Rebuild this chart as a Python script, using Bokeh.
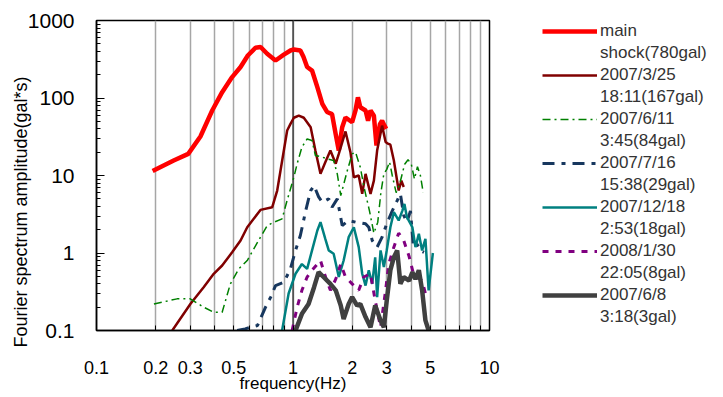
from bokeh.plotting import figure
from bokeh.layouts import row
from bokeh.models import (FixedTicker, CustomJSTickFormatter, Span, Legend, LegendItem, Range1d, Title)
from bokeh.embed import file_html
from bokeh.resources import INLINE

# ---------------- data ----------------
main_f = [0.193, 0.247, 0.293, 0.338, 0.388, 0.436, 0.49, 0.541, 0.589, 0.644, 0.684, 0.739, 0.815,
          0.898, 0.971, 1.01, 1.09, 1.13, 1.18, 1.25, 1.33, 1.41, 1.49, 1.58, 1.65, 1.71, 1.78, 1.85,
          2.0, 2.08, 2.14, 2.2, 2.34, 2.41, 2.48, 2.58, 2.66, 2.77, 2.84, 2.92, 2.98]
main_a = [11.4, 15.6, 19.0, 31.9, 69, 119, 186, 251, 353, 445, 455, 372, 305,
          363, 410, 423, 410, 340, 251, 226, 138, 84, 66, 62, 34, 21, 42, 56,
          48.7, 69, 102, 76, 69, 51, 69, 59, 24.4, 46, 51, 44, 40]

e0325_f = [0.243, 0.301, 0.351, 0.395, 0.436, 0.49, 0.541, 0.585, 0.683, 0.784, 0.831, 0.864, 0.934,
           0.971, 1.01, 1.07, 1.135, 1.23, 1.30, 1.38, 1.46, 1.55, 1.65, 1.71, 1.85, 1.96, 2.04,
           2.16, 2.25, 2.34, 2.48, 2.58, 2.68, 2.84, 2.96, 3.02, 3.13, 3.26, 3.45, 3.56, 3.66]
e0325_a = [0.1, 0.221, 0.362, 0.539, 0.69, 1.02, 1.45, 2.15, 3.6, 3.9, 6.4, 11.6, 38,
           46.4, 55.6, 59.4, 55.6, 42, 21, 10.5, 14.8, 21, 14.2, 19, 37, 20, 9.5,
           10, 5.8, 10.5, 5.8, 8.6, 21, 44, 27, 26, 25, 15.6, 6.4, 8.6, 7.1]

e0611_f = [0.196, 0.257, 0.30, 0.351, 0.395, 0.436, 0.48, 0.53, 0.585, 0.683, 0.74, 0.80, 0.88,
           0.934, 1.01, 1.05, 1.11, 1.18, 1.25, 1.30, 1.38, 1.49, 1.61, 1.68, 1.75, 1.89, 2.0,
           2.08, 2.2, 2.3, 2.45, 2.58, 2.7, 2.8, 2.9, 3.0, 3.1, 3.2, 3.35, 3.5, 3.7, 3.85, 4.0,
           4.15, 4.3, 4.45, 4.6]
e0611_a = [0.22, 0.256, 0.256, 0.2, 0.172, 0.172, 0.40, 0.625, 0.80, 1.6, 2.26, 2.5, 2.76,
           4.8, 9.5, 14.2, 23.2, 29.6, 28.3, 18.1, 17.6, 16.4, 15.6, 10.5, 5.5, 11.6, 19,
           20, 12.8, 7, 3.5, 1.8, 2.5, 6, 10.5, 12, 15, 10, 6, 8, 14, 16, 14,
           9, 13, 10, 6]

e0716_f = [0.52, 0.57, 0.66, 0.725, 0.77, 0.815, 0.90, 0.97, 1.03, 1.09, 1.16, 1.23, 1.28, 1.35,
           1.41, 1.52, 1.58, 1.68, 1.78, 1.92, 2.08, 2.2, 2.34, 2.43, 2.53, 2.68, 2.84, 3.0,
           3.2, 3.39, 3.52, 3.66, 3.8, 3.96, 4.1, 4.28, 4.45, 4.64]
e0716_a = [0.1, 0.105, 0.116, 0.2, 0.27, 0.38, 0.42, 0.625, 1.08, 1.68, 3.5, 6.4, 7.4, 5.3,
           4.5, 5.0, 3.9, 5.0, 2.26, 2.63, 2.5, 2.45, 2.38, 2.15, 1.45, 1.19, 1.6, 2.38,
           3.5, 4.75, 5.8, 3.05, 2.5, 3.5, 1.19, 1.3, 1.08, 1.02]

e1218_f = [0.88, 0.95, 1.03, 1.11, 1.18, 1.25, 1.33, 1.38, 1.46, 1.52, 1.61, 1.71, 1.81, 1.92,
           2.04, 2.16, 2.25, 2.34, 2.43, 2.53, 2.62, 2.68, 2.79, 2.9, 3.0, 3.13, 3.26, 3.45,
           3.6, 3.69, 3.8, 4.05, 4.2, 4.37, 4.54, 4.72, 4.9, 5.15]
e1218_a = [0.1, 0.30, 0.54, 0.72, 0.625, 1.08, 1.95, 2.5, 1.52, 1.08, 0.98, 0.49, 0.8, 1.6,
           2.15, 1.19, 0.54, 0.38, 0.6, 0.40, 0.88, 0.27, 1.08, 0.66, 1.08, 2.15, 3.36, 2.63,
           3.5, 4.3, 2.9, 2.15, 1.19, 1.77, 1.08, 1.52, 0.33, 1.0]

e0130_f = [0.99, 1.05, 1.11, 1.18, 1.25, 1.38, 1.46, 1.55, 1.65, 1.75, 1.85, 2.0, 2.16, 2.29,
           2.48, 2.62, 2.79, 2.96, 3.07, 3.26, 3.45, 3.66, 3.9, 4.1, 4.28, 4.54, 4.72, 4.8]
e0130_a = [0.1, 0.2, 0.33, 0.49, 0.6, 0.8, 0.5, 0.33, 0.46, 0.72, 0.49, 0.40, 0.33, 0.49,
           0.54, 0.244, 0.11, 0.33, 0.72, 1.19, 1.8, 1.45, 0.9, 0.54, 0.49, 0.44, 0.30, 0.25]

e0608_f = [1.03, 1.11, 1.20, 1.28, 1.35, 1.43, 1.55, 1.65, 1.75, 1.81, 1.92, 2.0, 2.12, 2.2,
           2.34, 2.48, 2.62, 2.79, 2.9, 3.0, 3.13, 3.26, 3.39, 3.52, 3.66, 3.9, 4.05, 4.2,
           4.37, 4.54, 4.72, 4.9]
e0608_a = [0.1, 0.164, 0.22, 0.362, 0.565, 0.49, 0.40, 0.33, 0.21, 0.141, 0.22, 0.27, 0.21, 0.22,
           0.149, 0.11, 0.21, 0.135, 0.11, 0.244, 0.6, 0.88, 1.08, 0.40, 0.49, 0.44, 0.565, 0.46,
           0.6, 0.33, 0.135, 0.1]

label_line1 = ["main", "2007/3/25", "2007/6/11", "2007/7/16", "2007/12/18", "2008/1/30", "2007/6/8"]
label_line2 = ["shock(780gal)", "18:11(167gal)", "3:45(84gal)", "15:38(29gal)", "2:53(18gal)",
               "22:05(8gal)", "3:18(3gal)"]

x_major = [0.1, 0.2, 0.3, 0.5, 1, 2, 3, 5, 10]
x_minor = [0.4, 0.6, 0.7, 0.8, 0.9, 4, 6, 7, 8, 9]
y_major = [0.1, 1, 10, 100, 1000]
y_minor = [m * d for d in [0.1, 1, 10, 100] for m in range(2, 10)]

styles = [
    dict(line_color="#ff0000", line_width=4.5),
    dict(line_color="#800000", line_width=2.5),
    dict(line_color="#008000", line_width=1.5, line_dash="8 4 2 4"),
    dict(line_color="#17375e", line_width=3, line_dash="12 7 4 7"),
    dict(line_color="#008080", line_width=2.5),
    dict(line_color="#800080", line_width=3, line_dash="6 7"),
    dict(line_color="#404040", line_width=4.5),
]
series = [(main_f, main_a), (e0325_f, e0325_a), (e0611_f, e0611_a), (e0716_f, e0716_a),
          (e1218_f, e1218_a), (e0130_f, e0130_a), (e0608_f, e0608_a)]

# ---------------- main figure ----------------
p = figure(width=540, height=397, x_axis_type="log", y_axis_type="log",
           x_range=Range1d(0.1, 10), y_range=Range1d(0.1, 1000),
           output_backend="svg", toolbar_location=None,
           min_border_left=96, min_border_right=51, min_border_top=20, min_border_bottom=67)
p.background_fill_color = "white"
p.border_fill_color = "white"
p.outline_line_color = "black"
p.outline_line_width = 1.5

fmt = CustomJSTickFormatter(code="return tick.toString();")

xa = p.xaxis[0]
xa.ticker = FixedTicker(ticks=x_major, minor_ticks=x_minor)
xa.formatter = fmt
xa.major_label_text_font = "Liberation Sans"
xa.major_label_text_font_size = "18px"
xa.major_label_text_color = "black"
xa.major_label_standoff = 30
xa.major_tick_in = 5
xa.major_tick_out = 0
xa.minor_tick_in = 5
xa.minor_tick_out = 0
xa.axis_line_color = "black"
xa.axis_line_width = 1.5
xa.axis_label = "frequency(Hz)"
xa.axis_label_text_font = "Liberation Sans"
xa.axis_label_text_font_size = "17px"
xa.axis_label_text_font_style = "normal"
xa.axis_label_text_color = "black"
xa.axis_label_standoff = -3

ya = p.yaxis[0]
ya.ticker = FixedTicker(ticks=y_major, minor_ticks=y_minor)
ya.formatter = fmt
ya.major_label_text_font = "Liberation Sans"
ya.major_label_text_font_size = "21px"
ya.major_label_text_color = "black"
ya.major_label_standoff = 22
ya.major_tick_in = 8
ya.major_tick_out = 0
ya.minor_tick_in = 4
ya.minor_tick_out = 0
ya.axis_line_color = "black"
ya.axis_line_width = 1.5

# y-axis title, starting a little below the frame bottom like the reference
ytitle = Title(text="Fourier spectrum amplitude(gal*s)", align="left", offset=-17,
               text_font="Liberation Sans", text_font_size="18px", text_font_style="normal",
               text_color="black", standoff=-12)
p.add_layout(ytitle, "left")

p.xgrid.ticker = FixedTicker(ticks=x_major, minor_ticks=x_minor)
p.xgrid.grid_line_color = "#a6a6a6"
p.xgrid.grid_line_width = 1.5
p.xgrid.minor_grid_line_color = "#a6a6a6"
p.xgrid.minor_grid_line_width = 1.5
p.ygrid.grid_line_color = None

p.add_layout(Span(location=1, dimension="height", line_color="black", line_width=1, level="underlay"))

for (fx, ay), st in zip(series, styles):
    p.line(fx, ay, **st)

# ---------------- legend panel ----------------
# same series drawn in a figure whose y-range excludes them, so only the legend shows
lg = figure(width=183, height=397, x_range=Range1d(0, 1), y_range=Range1d(-10, -9),
            x_axis_location=None, y_axis_location=None,
            output_backend="svg", toolbar_location=None,
            min_border_left=2, min_border_top=20, min_border_right=0, min_border_bottom=0)
lg.outline_line_color = None
lg.xgrid.visible = False
lg.ygrid.visible = False
lg.background_fill_color = "white"
lg.border_fill_color = "white"

blank = lg.line(main_f, main_a, line_alpha=0)
items = []
for l1, l2, (fx, ay), st in zip(label_line1, label_line2, series, styles):
    r = lg.line(fx, ay, **st)
    items.append(LegendItem(label=l1, renderers=[r]))
    items.append(LegendItem(label=l2, renderers=[blank]))

legend = Legend(items=items, location="top_left",
                label_text_font="Liberation Sans", label_text_font_size="17px",
                label_text_color="#333333", glyph_width=55, glyph_height=22, label_height=22,
                spacing=0, padding=0, margin=0, label_standoff=3,
                border_line_color=None, background_fill_color="white")
lg.add_layout(legend)

layout = row(p, lg, spacing=0)
open("out.html", "w").write(file_html(layout, INLINE))
